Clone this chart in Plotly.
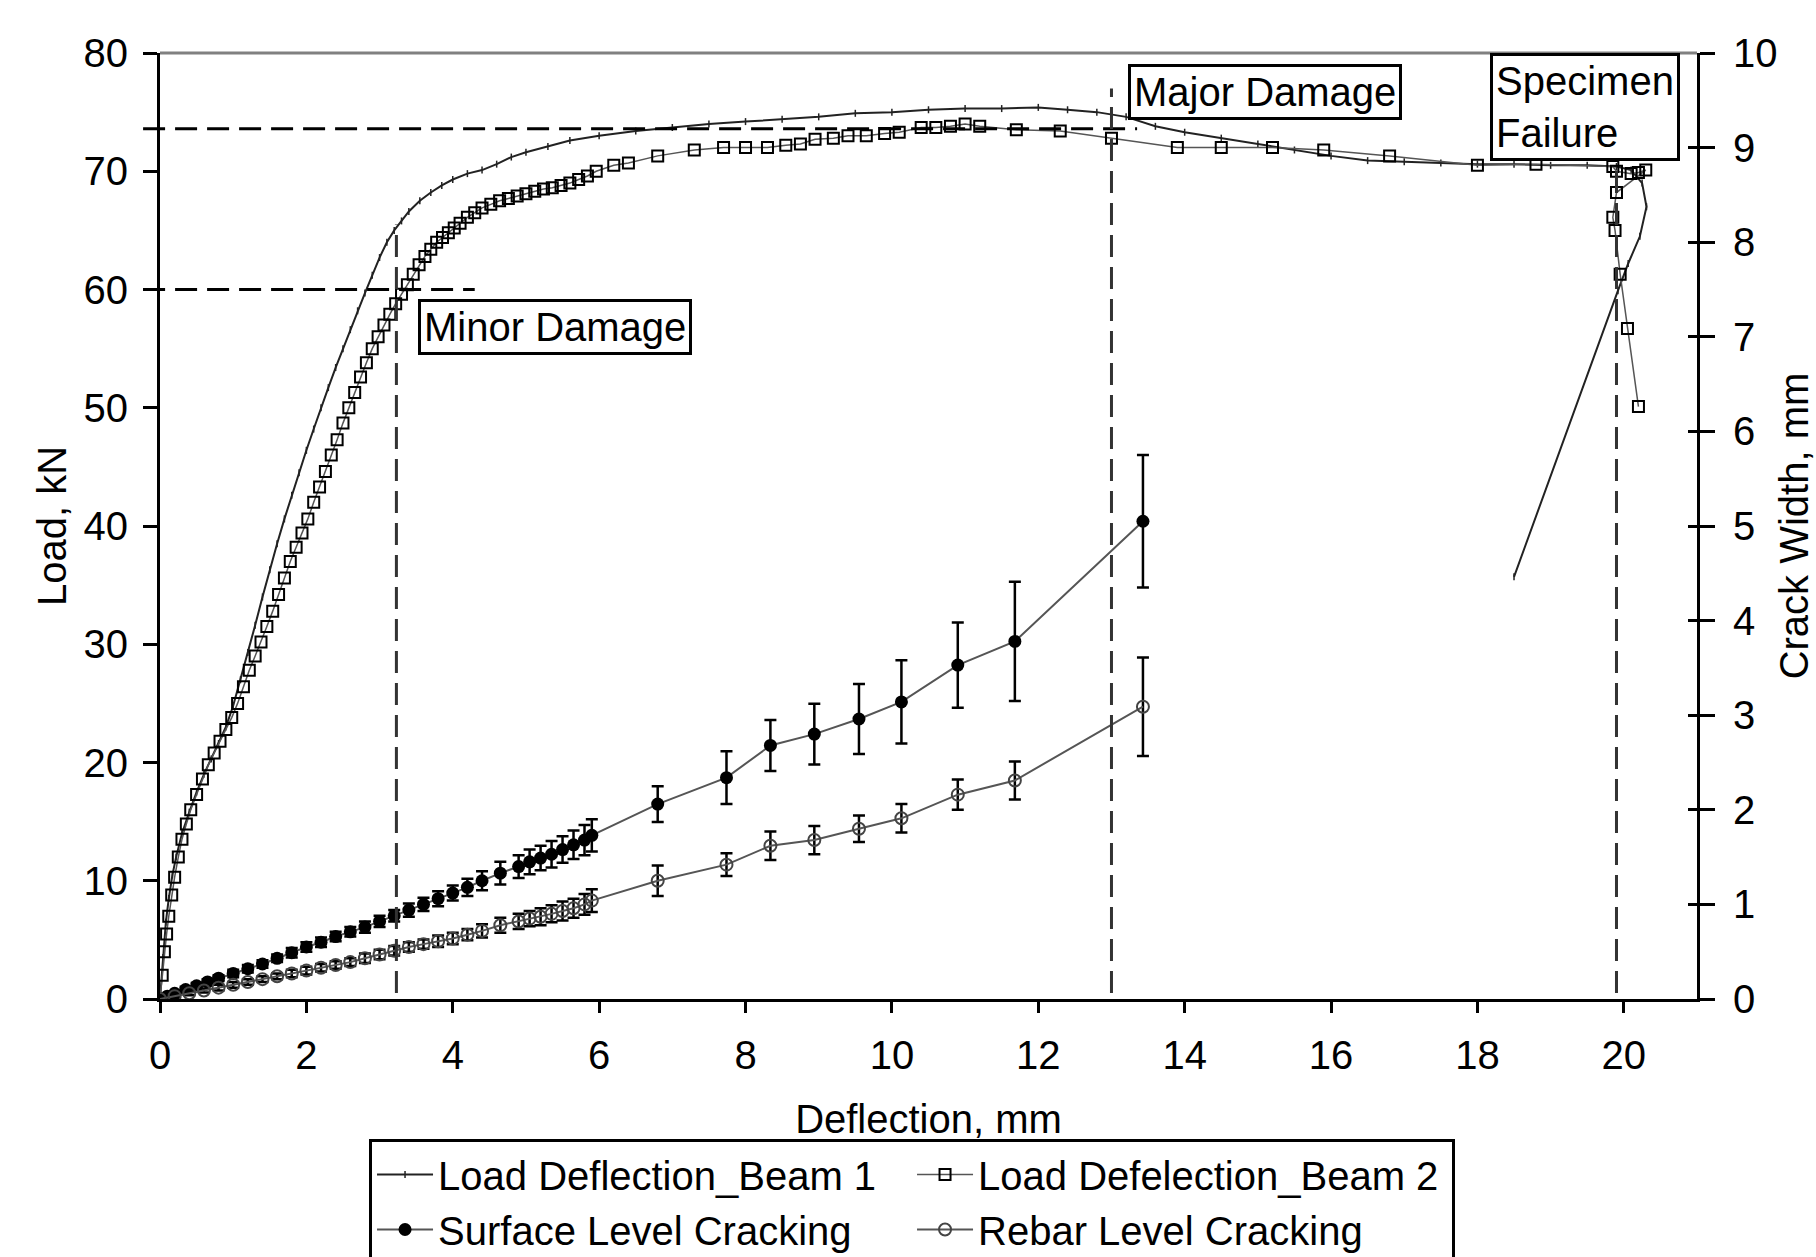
import plotly.graph_objects as go

# ---------------- data ----------------
beam1_x = [0.00, 0.04, 0.08, 0.12, 0.17, 0.22, 0.30, 0.40, 0.50, 0.60, 0.70, 0.80, 0.90, 1.00,
           1.10, 1.20, 1.30, 1.40, 1.50, 1.60, 1.70, 1.80, 1.90, 2.00, 2.10, 2.20, 2.30, 2.40,
           2.50, 2.60, 2.70, 2.80, 2.90, 3.00, 3.10, 3.20, 3.30, 3.40, 3.55, 3.70, 3.85, 4.00,
           4.20, 4.40, 4.60, 4.80, 5.00, 5.30, 5.60, 6.00, 6.50, 7.00, 7.50, 8.00, 8.50, 9.00,
           9.50, 10.00, 10.50, 11.00, 11.50, 12.00, 12.40, 12.80, 13.20, 13.60, 14.00, 14.50,
           15.00, 15.50, 16.00, 16.50, 17.00, 17.50, 18.00, 18.50, 19.00, 19.50, 19.90, 20.10,
           20.25, 20.31, 20.22, 20.06, 19.92, 18.50]
beam1_load = [0.0, 3.5, 6.5, 8.5, 10.5, 12.0, 14.0, 15.8, 17.5, 19.0, 20.3, 21.6, 23.0, 24.8,
              27.0, 29.3, 31.6, 34.0, 36.3, 38.5, 40.6, 42.6, 44.5, 46.4, 48.2, 50.0, 51.7, 53.4,
              55.0, 56.6, 58.2, 59.7, 61.2, 62.7, 64.0, 65.0, 65.8, 66.6, 67.5, 68.2, 68.8, 69.3,
              69.8, 70.1, 70.6, 71.2, 71.6, 72.1, 72.6, 73.0, 73.4, 73.7, 74.0, 74.2, 74.4, 74.6,
              74.9, 75.0, 75.2, 75.3, 75.3, 75.4, 75.2, 75.0, 74.6, 73.8, 73.3, 72.8,
              72.3, 71.8, 71.3, 70.9, 70.8, 70.7, 70.6, 70.6, 70.5, 70.5, 70.4, 70.1,
              69.0, 67.0, 64.5, 62.2, 59.9, 35.7]

beam2_x = [0.00, 0.03, 0.06, 0.09, 0.12, 0.16, 0.20, 0.25, 0.30, 0.36, 0.42, 0.50, 0.58, 0.66,
           0.74, 0.82, 0.90, 0.98, 1.06, 1.14, 1.22, 1.30, 1.38, 1.46, 1.54, 1.62, 1.70, 1.78,
           1.86, 1.94, 2.02, 2.10, 2.18, 2.26, 2.34, 2.42, 2.50, 2.58, 2.66, 2.74, 2.82, 2.90,
           2.98, 3.06, 3.14, 3.22, 3.30, 3.38, 3.46, 3.54, 3.62, 3.70, 3.78, 3.86, 3.94, 4.02,
           4.10, 4.20, 4.30, 4.40, 4.52, 4.64, 4.76, 4.88, 5.00, 5.12, 5.24, 5.36, 5.48, 5.60,
           5.72, 5.84, 5.96, 6.20, 6.40, 6.80, 7.30, 7.70, 8.00, 8.30, 8.55, 8.75, 8.95, 9.20,
           9.40, 9.65, 9.90, 10.10, 10.40, 10.60, 10.80, 11.00, 11.20, 11.70, 12.30, 13.00,
           13.90, 14.50, 15.20, 15.90, 16.80, 18.00, 18.80, 19.85, 19.90, 20.10, 20.20, 20.30,
           19.90, 19.85, 19.88, 19.95, 20.05, 20.20]
beam2_load = [0.0, 2.0, 4.0, 5.5, 7.0, 8.8, 10.3, 12.0, 13.5, 14.8, 16.0, 17.3, 18.6, 19.8,
              20.8, 21.8, 22.8, 23.8, 25.0, 26.4, 27.8, 29.0, 30.2, 31.5, 32.8, 34.2, 35.6, 37.0,
              38.2, 39.4, 40.6, 42.0, 43.3, 44.6, 46.0, 47.3, 48.7, 50.0, 51.3, 52.6, 53.8, 55.0,
              56.0, 57.0, 57.9, 58.8, 59.6, 60.4, 61.3, 62.1, 62.8, 63.4, 64.0, 64.4, 64.8, 65.2,
              65.6, 66.1, 66.5, 66.9, 67.2, 67.5, 67.7, 67.9, 68.1, 68.3, 68.5, 68.6, 68.8, 69.0,
              69.3, 69.6, 70.0, 70.5, 70.7, 71.3, 71.8, 72.0, 72.0, 72.0, 72.2, 72.3, 72.7, 72.8,
              73.0, 73.0, 73.2, 73.3, 73.7, 73.7, 73.8, 74.0, 73.8, 73.5, 73.4, 72.8,
              72.0, 72.0, 72.0, 71.8, 71.3, 70.5, 70.6, 70.4, 70.0, 69.8, 69.9, 70.1,
              68.2, 66.1, 65.0, 61.3, 56.7, 50.1]

surface_x = [0.0, 0.1, 0.2, 0.35, 0.5, 0.65, 0.8, 1.0, 1.2, 1.4, 1.6, 1.8, 2.0, 2.2, 2.4, 2.6,
             2.8, 3.0, 3.2, 3.4, 3.6, 3.8, 4.0, 4.2, 4.4, 4.65, 4.9, 5.05, 5.2, 5.35, 5.5, 5.65,
             5.8, 5.9, 6.80, 7.74, 8.34, 8.94, 9.55, 10.13, 10.90, 11.68, 13.43]
surface_crack = [0.00, 0.03, 0.06, 0.10, 0.14, 0.18, 0.22, 0.27, 0.32, 0.37, 0.43, 0.49, 0.55,
                 0.60, 0.66, 0.71, 0.76, 0.82, 0.88, 0.94, 1.00, 1.06, 1.12, 1.18, 1.25, 1.33,
                 1.40, 1.45, 1.49, 1.53, 1.58, 1.63, 1.68, 1.73, 2.06, 2.34, 2.68, 2.80, 2.96,
                 3.14, 3.53, 3.78, 5.05]
surface_err = [0.02, 0.02, 0.02, 0.03, 0.03, 0.03, 0.03, 0.04, 0.04, 0.04, 0.04, 0.05, 0.05,
               0.05, 0.05, 0.05, 0.06, 0.06, 0.06, 0.07, 0.07, 0.08, 0.08, 0.09, 0.10, 0.12,
               0.12, 0.13, 0.13, 0.14, 0.14, 0.15, 0.16, 0.17, 0.19, 0.28, 0.27, 0.32, 0.37,
               0.44, 0.45, 0.63, 0.70]

rebar_x = [0.0, 0.2, 0.4, 0.6, 0.8, 1.0, 1.2, 1.4, 1.6, 1.8, 2.0, 2.2, 2.4, 2.6, 2.8, 3.0, 3.2,
           3.4, 3.6, 3.8, 4.0, 4.2, 4.4, 4.65, 4.9, 5.05, 5.2, 5.35, 5.5, 5.65, 5.8, 5.9,
           6.80, 7.74, 8.34, 8.94, 9.55, 10.13, 10.90, 11.68, 13.43]
rebar_crack = [0.00, 0.03, 0.06, 0.09, 0.12, 0.15, 0.18, 0.21, 0.24, 0.27, 0.30, 0.33, 0.36,
               0.39, 0.43, 0.47, 0.51, 0.55, 0.58, 0.61, 0.64, 0.68, 0.72, 0.78, 0.82, 0.85,
               0.87, 0.90, 0.93, 0.96, 1.00, 1.04, 1.25, 1.42, 1.62, 1.68, 1.80, 1.91, 2.16,
               2.31, 3.09]
rebar_err = [0.02, 0.02, 0.02, 0.02, 0.03, 0.03, 0.03, 0.03, 0.03, 0.04, 0.04, 0.04, 0.04,
             0.04, 0.05, 0.05, 0.05, 0.05, 0.05, 0.06, 0.06, 0.06, 0.07, 0.08, 0.08, 0.08,
             0.09, 0.09, 0.10, 0.10, 0.11, 0.12, 0.16, 0.12, 0.15, 0.15, 0.14, 0.15, 0.16,
             0.20, 0.52]

# reference (damage) lines: load levels and deflection levels
hline_loads = [60.0, 73.6]
hline_xends = [4.3, 13.35]
vline_defl = [3.23, 13.0, 19.9]
vline_tops = [65.5, 77.0, 71.5]

damage_labels = ["Minor Damage", "Major Damage", "Specimen<br>Failure"]
damage_label_x = [3.52, 13.22, 18.17]
damage_label_y = [59.2, 79.1, 80.0]

X_MAX = 21.0
FONT = "Liberation Sans, Arial, sans-serif"

fig = go.Figure()

fig.add_trace(go.Scatter(
    x=beam1_x, y=beam1_load, name="Load Deflection_Beam 1", mode="lines+markers",
    line=dict(color="#222222", width=2),
    marker=dict(symbol="line-ns", size=5, line=dict(width=1.5, color="#222222")),
    yaxis="y"))

fig.add_trace(go.Scatter(
    x=beam2_x, y=beam2_load, name="Load Defelection_Beam 2", mode="lines+markers",
    line=dict(color="#555555", width=1.5),
    marker=dict(symbol="square-open", size=11, color="black", line=dict(width=2, color="black")),
    yaxis="y"))

fig.add_trace(go.Scatter(
    x=surface_x, y=surface_crack, name="Surface Level Cracking", mode="lines+markers",
    line=dict(color="#555555", width=2),
    marker=dict(symbol="circle", size=13, color="black"),
    error_y=dict(type="data", array=surface_err, color="black", thickness=2.5, width=6),
    yaxis="y2"))

fig.add_trace(go.Scatter(
    x=rebar_x, y=rebar_crack, name="Rebar Level Cracking", mode="lines+markers",
    line=dict(color="#555555", width=2),
    marker=dict(symbol="circle-open", size=12, color="#444444", line=dict(width=2, color="#444444")),
    error_y=dict(type="data", array=rebar_err, color="black", thickness=2.5, width=6),
    yaxis="y2"))

# invisible helper trace for the inner ticks of the right axis
fig.add_trace(go.Scatter(x=[0], y=[0], yaxis="y3", mode="markers",
                         marker=dict(opacity=0), showlegend=False, hoverinfo="skip"))

shapes = []
for ld, xe in zip(hline_loads, hline_xends):
    shapes.append(dict(type="line", xref="paper", yref="y", x0=-0.011, x1=xe / X_MAX,
                       y0=ld, y1=ld, line=dict(color="black", width=3, dash="22px,10px")))
for xd, yt in zip(vline_defl, vline_tops):
    shapes.append(dict(type="line", xref="x", yref="y", x0=xd, x1=xd, y0=0.5, y1=yt,
                       line=dict(color="#333333", width=3, dash="22px,10px")))
shapes.append(dict(type="line", xref="paper", yref="paper", x0=0, x1=1, y0=1, y1=1,
                   line=dict(color="#808080", width=3)))

annotations = []
for txt, ax, ay in zip(damage_labels, damage_label_x, damage_label_y):
    annotations.append(dict(text=txt, x=ax, y=ay, xref="x", yref="y", xanchor="left",
                            yanchor="top", showarrow=False, align="left",
                            font=dict(family=FONT, size=40, color="black"),
                            bordercolor="black", borderwidth=3, borderpad=3, bgcolor="white"))

axis_common = dict(showgrid=False, zeroline=False, showline=True, linecolor="black",
                   linewidth=3, ticks="outside", tickcolor="black", tickwidth=3,
                   tickfont=dict(family=FONT, size=40, color="black"))

fig.update_layout(
    width=1816, height=1257,
    template="none",
    paper_bgcolor="white", plot_bgcolor="white",
    margin=dict(l=160, r=119, t=53, b=258, autoexpand=False),
    font=dict(family=FONT, size=40, color="black"),
    xaxis=dict(range=[0, X_MAX], tick0=0, dtick=2, ticklen=11, ticklabelstandoff=8,
               title=dict(text="Deflection, mm", font=dict(family=FONT, size=40), standoff=29),
               **axis_common),
    yaxis=dict(range=[0, 80], tick0=0, dtick=10, ticklen=14, ticklabelstandoff=7,
               title=dict(text="Load, kN", font=dict(family=FONT, size=40), standoff=5),
               **axis_common),
    yaxis2=dict(range=[0, 10], tick0=0, dtick=1, ticklen=15, overlaying="y", side="right",
                ticklabelstandoff=10,
                title=dict(text="Crack Width, mm", font=dict(family=FONT, size=40), standoff=10),
                **axis_common),
    yaxis3=dict(range=[0, 10], tick0=0, dtick=1, overlaying="y", side="right",
                ticks="inside", ticklen=9, tickwidth=3, tickcolor="black",
                showticklabels=False, showline=False, showgrid=False, zeroline=False),
    legend=dict(orientation="h", x=0.136, y=-0.148, xanchor="left", yanchor="top",
                bordercolor="black", borderwidth=3, bgcolor="white",
                font=dict(family=FONT, size=40, color="black"), entrywidth=469,
                itemwidth=56, tracegroupgap=0),
    shapes=shapes,
    annotations=annotations,
    showlegend=True,
)

fig.write_html("out.html", config={"displayModeBar": False},
               post_script="document.body.style.margin='0px';")
